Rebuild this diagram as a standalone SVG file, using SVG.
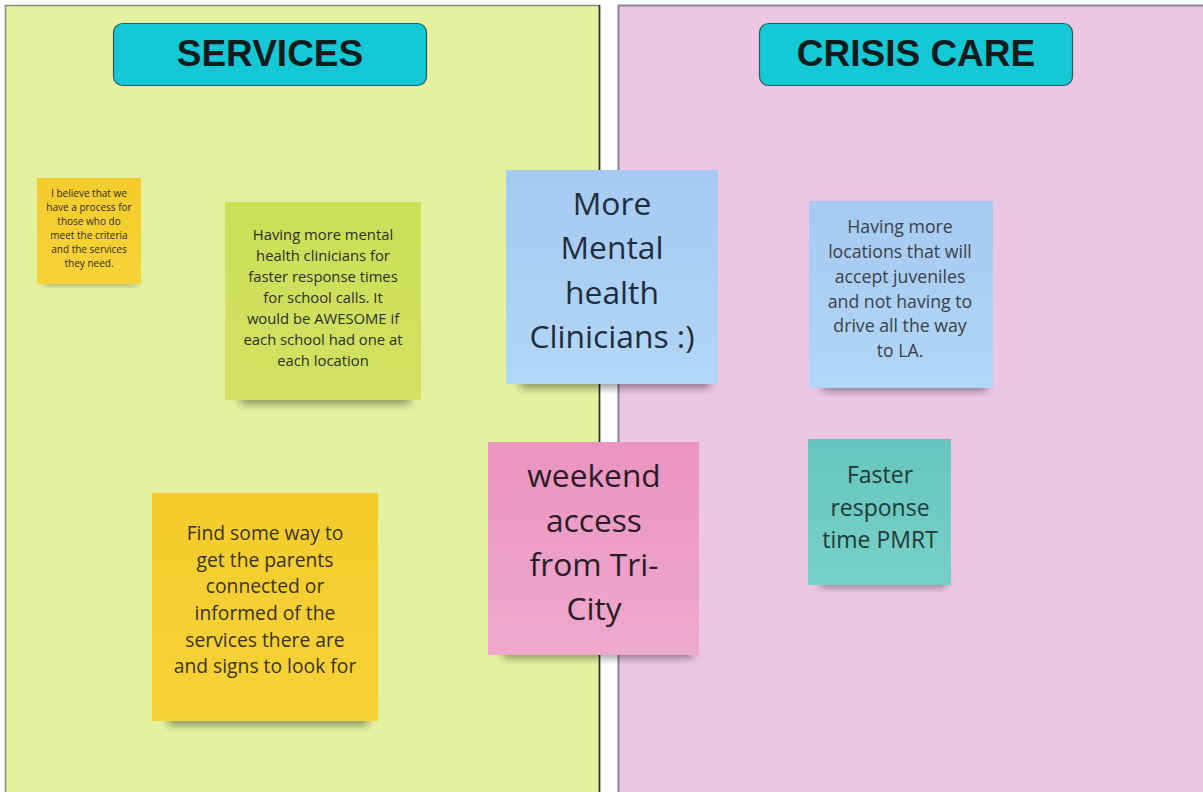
<svg xmlns="http://www.w3.org/2000/svg" width="1203" height="792" viewBox="0 0 1203 792">
<defs>
<style>
.hdr{fill:#14c9d5;stroke:#2c5860;stroke-width:1.2}
.hdrt{font-family:"Liberation Sans",Arial,sans-serif;font-weight:bold;font-size:37px;fill:#0e1c1e;text-anchor:middle}
.nt{font-family:"Open Sans","Noto Sans",sans-serif;text-anchor:middle;fill:#2e2e2e}
.shadow{fill:#000;opacity:0.4;filter:url(#blur)}
</style>
<filter id="blur" x="-20%" y="-50%" width="140%" height="200%"><feGaussianBlur stdDeviation="4.5"/></filter>
<linearGradient id="gBlue" x1="0" y1="0" x2="0" y2="1"><stop offset="0" stop-color="#a6caf1"/><stop offset="1" stop-color="#b2d6f6"/></linearGradient>
<linearGradient id="gPink" x1="0" y1="0" x2="0" y2="1"><stop offset="0" stop-color="#eb94c0"/><stop offset="1" stop-color="#eea9cd"/></linearGradient>
<linearGradient id="gTeal" x1="0" y1="0" x2="0" y2="1"><stop offset="0" stop-color="#66c6bd"/><stop offset="1" stop-color="#78d0c6"/></linearGradient>
<linearGradient id="gYel" x1="0" y1="0" x2="0" y2="1"><stop offset="0" stop-color="#f4cb2c"/><stop offset="1" stop-color="#f6d338"/></linearGradient>
<linearGradient id="gGreen" x1="0" y1="0" x2="0" y2="1"><stop offset="0" stop-color="#cbdf58"/><stop offset="1" stop-color="#d1e262"/></linearGradient>
</defs>
<rect width="1203" height="792" fill="#ffffff"/>
<g id="panel-services">
<rect x="5.5" y="5.5" width="594" height="800" fill="#e4f1a0" stroke="#8c8c7c" stroke-width="1.5"/>
<line x1="599.5" y1="5" x2="599.5" y2="792" stroke="#2a3020" stroke-width="1.5"/>
</g>
<g id="panel-crisis">
<rect x="618.5" y="5.5" width="600" height="800" fill="#ecc7e4" stroke="#8c8490" stroke-width="2"/>
</g>
<g id="header-services">
<rect class="hdr" x="113.5" y="23.5" width="313" height="62" rx="9"/>
<text class="hdrt" x="270" y="66">SERVICES</text>
</g>
<g id="header-crisis">
<rect class="hdr" x="759.5" y="23.5" width="313" height="62" rx="9"/>
<text class="hdrt" x="916" y="66">CRISIS CARE</text>
</g>
<g id="connectors"></g>
<g id="note-believe">
<rect class="shadow" x="44" y="276" width="92" height="8"/>
<rect x="37" y="178" width="104" height="106" fill="url(#gYel)"/>
<text class="nt" font-size="10" x="89"><tspan x="89" y="197">I believe that we</tspan><tspan x="89" y="211">have a process for</tspan><tspan x="89" y="225">those who do</tspan><tspan x="89" y="239">meet the criteria</tspan><tspan x="89" y="253">and the services</tspan><tspan x="89" y="267">they need.</tspan></text>
</g>
<g id="note-clinicians-school">
<rect class="shadow" x="240" y="392" width="170" height="12"/>
<rect x="225" y="202" width="196" height="198" fill="url(#gGreen)"/>
<text class="nt" font-size="14.8"><tspan x="323" y="240">Having more mental</tspan><tspan x="323" y="261">health clinicians for</tspan><tspan x="323" y="282">faster response times</tspan><tspan x="323" y="303">for school calls. It</tspan><tspan x="323" y="324">would be AWESOME if</tspan><tspan x="323" y="345">each school had one at</tspan><tspan x="323" y="366">each location</tspan></text>
</g>
<g id="note-more-clinicians">
<rect class="shadow" x="520" y="376" width="190" height="12"/>
<rect x="506" y="170" width="212" height="214" fill="url(#gBlue)"/>
<text class="nt" font-size="31.8" style="fill:#1f2d3e"><tspan x="612" y="215">More</tspan><tspan x="612" y="259">Mental</tspan><tspan x="612" y="304">health</tspan><tspan x="612" y="348">Clinicians :)</tspan></text>
</g>
<g id="note-locations">
<rect class="shadow" x="822" y="380" width="165" height="11"/>
<rect x="809" y="201" width="184" height="187" fill="url(#gBlue)"/>
<text class="nt" font-size="17.7" style="fill:#3a3f48"><tspan x="900" y="233">Having more</tspan><tspan x="900" y="258">locations that will</tspan><tspan x="900" y="283">accept juveniles</tspan><tspan x="900" y="308">and not having to</tspan><tspan x="900" y="332">drive all the way</tspan><tspan x="900" y="357">to LA.</tspan></text>
</g>
<g id="note-weekend">
<rect class="shadow" x="503" y="646" width="190" height="12"/>
<rect x="488" y="442" width="211" height="213" fill="url(#gPink)"/>
<text class="nt" font-size="31.7" style="fill:#2a1c24"><tspan x="594" y="487">weekend</tspan><tspan x="594" y="532">access</tspan><tspan x="594" y="576">from Tri-</tspan><tspan x="594" y="620">City</tspan></text>
</g>
<g id="note-pmrt">
<rect class="shadow" x="820" y="577" width="126" height="10"/>
<rect x="808" y="439" width="143" height="146" fill="url(#gTeal)"/>
<text class="nt" font-size="23" style="fill:#1f3a38"><tspan x="880" y="483">Faster</tspan><tspan x="880" y="516">response</tspan><tspan x="880" y="548">time PMRT</tspan></text>
</g>
<g id="note-parents">
<rect class="shadow" x="168" y="712" width="200" height="13"/>
<rect x="152" y="493" width="226" height="228" fill="url(#gYel)"/>
<text class="nt" font-size="19.3" style="fill:#3a3320"><tspan x="265" y="540">Find some way to</tspan><tspan x="265" y="567">get the parents</tspan><tspan x="265" y="593">connected or</tspan><tspan x="265" y="620">informed of the</tspan><tspan x="265" y="647">services there are</tspan><tspan x="265" y="673">and signs to look for</tspan></text>
</g>
</svg>
